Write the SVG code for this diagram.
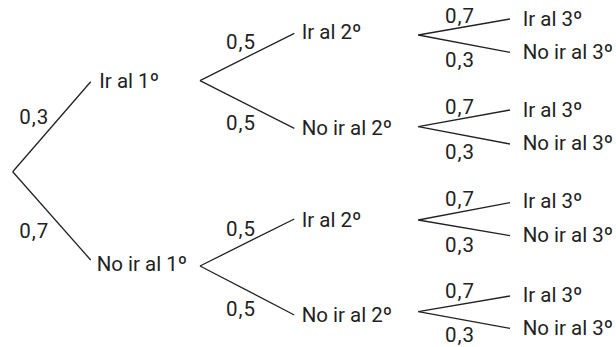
<svg xmlns="http://www.w3.org/2000/svg" width="616" height="347" viewBox="0 0 616 347">
<style>
text{font-family:Roboto,"Liberation Sans",sans-serif;font-size:20.5px;fill:#222}
#labels text{letter-spacing:1px}
.c line{stroke:#222;stroke-width:1.3;fill:none}
</style>
<rect width="616" height="347" fill="#fff"/>
<g class="c" id="connectors">
<line x1="12.7" y1="171.7" x2="90.7" y2="81.7"/>
<line x1="12.7" y1="171.7" x2="90.7" y2="260"/>
<line x1="200" y1="80.7" x2="294.3" y2="33.3"/>
<line x1="200" y1="80.7" x2="294.3" y2="128.3"/>
<line x1="200" y1="266" x2="294.3" y2="219"/>
<line x1="200" y1="266" x2="294.3" y2="315"/>
<line x1="418.3" y1="35" x2="510" y2="19"/>
<line x1="418.3" y1="35" x2="510" y2="52.3"/>
<line x1="418.3" y1="126.7" x2="510" y2="110"/>
<line x1="418.3" y1="126.7" x2="510" y2="144"/>
<line x1="418.3" y1="220" x2="510" y2="202.7"/>
<line x1="418.3" y1="220" x2="510" y2="235.7"/>
<line x1="418.3" y1="311.7" x2="510" y2="296"/>
<line x1="418.3" y1="311.7" x2="510" y2="328.3"/>
</g>
<g id="labels">
<text x="19.3" y="124">0,3</text>
<text x="19.3" y="238">0,7</text>
<text x="226" y="49">0,5</text>
<text x="226" y="129.5">0,5</text>
<text x="226" y="236">0,5</text>
<text x="226" y="316">0,5</text>
<text x="445" y="23.3">0,7</text>
<text x="445" y="66.5">0,3</text>
<text x="445" y="114">0,7</text>
<text x="445" y="158.5">0,3</text>
<text x="445" y="205.5">0,7</text>
<text x="445" y="251.5">0,3</text>
<text x="445" y="298.3">0,7</text>
<text x="445" y="342">0,3</text>
</g>
<g id="n1a"><text x="99.3" y="88.3">Ir al 1º</text></g>
<g id="n1b"><text x="96.7" y="271">No ir al 1º</text></g>
<g id="n2a"><text x="301.7" y="39">Ir al 2º</text></g>
<g id="n2b"><text x="301.7" y="135">No ir al 2º</text></g>
<g id="n2c"><text x="301.7" y="226.7">Ir al 2º</text></g>
<g id="n2d"><text x="301.7" y="321.7">No ir al 2º</text></g>
<g id="n3a"><text x="522.7" y="25.7">Ir al 3º</text></g>
<g id="n3b"><text x="522.7" y="59">No ir al 3º</text></g>
<g id="n3c"><text x="522.7" y="116.7">Ir al 3º</text></g>
<g id="n3d"><text x="522.7" y="150">No ir al 3º</text></g>
<g id="n3e"><text x="522.7" y="208.3">Ir al 3º</text></g>
<g id="n3f"><text x="522.7" y="241.7">No ir al 3º</text></g>
<g id="n3g"><text x="522.7" y="301.7">Ir al 3º</text></g>
<g id="n3h"><text x="522.7" y="335">No ir al 3º</text></g>
</svg>
